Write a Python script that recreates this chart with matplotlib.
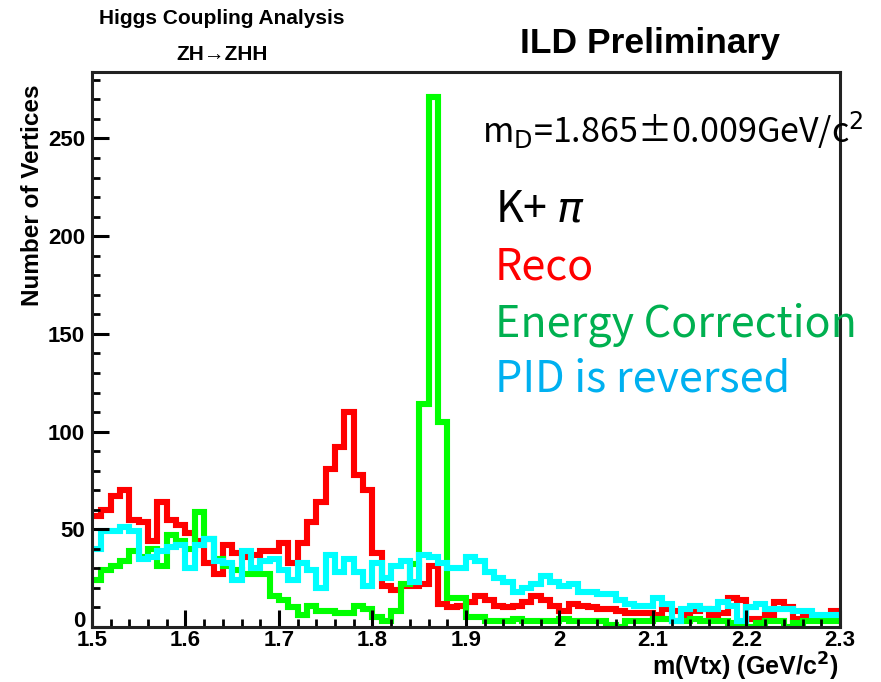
import numpy as np
import matplotlib.pyplot as plt
import matplotlib.transforms as mtransforms

# histogram binning (GeV/c^2)
x_lo, x_hi, n_bins = 1.5, 2.3, 80

# bin contents
reco = [57, 60, 67, 70, 55, 54, 44, 64, 55, 52,
        48, 44, 33, 27, 42, 38, 36, 37, 39, 39,
        43, 33, 43, 54, 64, 81, 92, 110, 78, 70,
        38, 21, 19, 21, 21, 22, 31, 12, 10, 11,
        13, 16, 14, 11, 10, 11, 13, 16, 14, 11,
        8, 12, 11, 10, 9, 9, 8, 7, 7, 7,
        6, 9, 8, 6, 8, 9, 6, 7, 15, 14,
        4, 4, 6, 13, 10, 4, 6, 4, 5, 8]
energy_corr = [24, 29, 31, 34, 39, 36, 40, 31, 47, 44,
               40, 59, 45, 35, 31, 29, 27, 27, 27, 16,
               14, 10, 6, 11, 8, 8, 7, 7, 11, 9,
               5, 3, 8, 22, 32, 114, 271, 105, 15, 15,
               5, 5, 3, 3, 3, 4, 3, 3, 3, 3,
               4, 3, 3, 3, 3, 1, 0, 3, 3, 3,
               4, 4, 3, 3, 4, 3, 3, 3, 2, 1,
               0, 2, 3, 3, 0, 2, 3, 3, 3, 3]
pid_reversed = [40, 49, 49, 51, 49, 35, 36, 39, 41, 42,
                30, 42, 45, 34, 33, 24, 39, 30, 34, 35,
                29, 24, 33, 29, 20, 37, 28, 35, 28, 21,
                33, 25, 31, 34, 23, 37, 36, 33, 30, 30,
                36, 34, 28, 25, 23, 18, 20, 22, 26, 23,
                21, 22, 18, 18, 17, 17, 14, 12, 11, 11,
                15, 12, 3, 9, 11, 9, 9, 13, 11, 3,
                10, 12, 9, 9, 9, 8, 8, 6, 6, 6]

edges = np.linspace(x_lo, x_hi, n_bins + 1)

fig = plt.figure(figsize=(8.81, 6.82), dpi=100)
ax = fig.add_axes([0.1044, 0.0806, 0.849, 0.8138])

lw = 4.4
ax.stairs(reco, edges, baseline=None, color='#ff0000', lw=lw)
ax.stairs(energy_corr, edges, baseline=None, color='#00ff00', lw=lw)
ax.stairs(pid_reversed, edges, baseline=None, color='#00ffff', lw=lw)

ax.set_xlim(x_lo, x_hi)
ax.set_ylim(0, 284)
ax.set_xticks(np.arange(1.5, 2.31, 0.1))
ax.set_xticklabels(['1.5', '1.6', '1.7', '1.8', '1.9', '2', '2.1', '2.2', '2.3'])
ax.set_xticks(np.arange(1.5, 2.31, 0.02), minor=True)
ax.set_yticks(np.arange(0, 251, 50))
ax.set_yticks(np.arange(0, 281, 10), minor=True)

root_font = 'Liberation Sans'
ax.tick_params(which='major', direction='in', length=12, width=2.2,
               labelsize=16)
ax.tick_params(axis='x', which='major', pad=2)
ax.tick_params(axis='y', which='major', pad=5)
ax.tick_params(which='minor', direction='in', length=6, width=2.0)
for lab in ax.get_xticklabels() + ax.get_yticklabels():
    lab.set_fontweight('bold')
    lab.set_family(root_font)
# nudge the "0" up a little so it clears the x labels (as in the original)
zero_lab = ax.get_yticklabels()[0]
zero_lab.set_transform(zero_lab.get_transform() +
                       mtransforms.ScaledTranslation(0, 6 / 72, fig.dpi_scale_trans))
for sp in ax.spines.values():
    sp.set_linewidth(2.2)
    sp.set_color('#222222')

fig.text(33 / 881, 1 - 84 / 682, 'Number of Vertices', rotation=90,
         ha='center', va='top', fontsize=17.5, fontweight='bold', family=root_font)
fig.text(838 / 881, 1 - 667 / 682, 'm(Vtx) (GeV/c$^{\\mathbf{2}}$)',
         ha='right', va='center', fontsize=18, fontweight='bold', family=root_font)

fig.text(222 / 881, 1 - 19 / 682, 'Higgs Coupling Analysis', ha='center',
         va='center', fontsize=15, fontweight='bold', family=root_font)
fig.text(222 / 881, 1 - 55 / 682, 'ZH\u2192ZHH', ha='center', va='center',
         fontsize=15, fontweight='bold', family=root_font)
fig.text(650 / 881, 1 - 44 / 682, 'ILD Preliminary', ha='center', va='center',
         fontsize=25.5, fontweight='bold', family=root_font)

jp = ['Noto Sans CJK JP', 'DejaVu Sans']
fig.text(482 / 881, 1 - 130 / 682, 'm$_\\mathrm{D}$=1.865\u00b10.009GeV/c$^2$',
         ha='left', va='center', fontsize=24.5, family=jp)
fig.text(495 / 881, 1 - 210 / 682, 'K+ $\\pi$', ha='left', va='center',
         fontsize=31, family=jp)
fig.text(495 / 881, 1 - 268 / 682, 'Reco', ha='left', va='center',
         fontsize=31, color='#ff0000', family=jp)
fig.text(495 / 881, 1 - 325 / 682, 'Energy Correction', ha='left', va='center',
         fontsize=31, color='#00b050', family=jp)
fig.text(495 / 881, 1 - 380 / 682, 'PID is reversed', ha='left', va='center',
         fontsize=31, color='#00b0f0', family=jp)

fig.savefig('out.png', dpi=100)
